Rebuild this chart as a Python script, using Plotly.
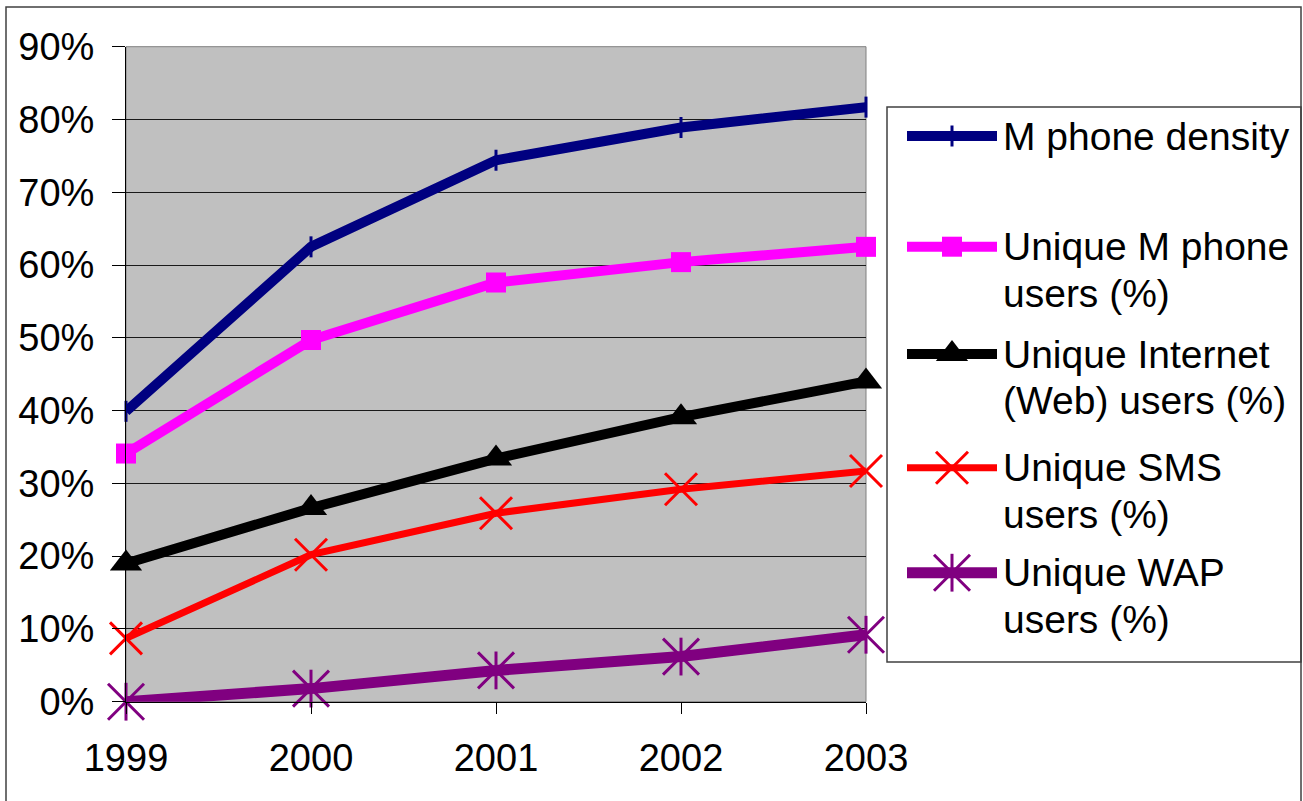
import plotly.graph_objects as go

# ---- data -------------------------------------------------------------
years = [1999, 2000, 2001, 2002, 2003]
year_labels = ["1999", "2000", "2001", "2002", "2003"]

m_phone_density = [39.9, 62.5, 74.4, 78.9, 81.7]
unique_m_phone = [34.1, 49.7, 57.6, 60.4, 62.5]
unique_internet = [19.0, 26.6, 33.4, 39.1, 44.0]
unique_sms = [8.7, 20.2, 25.9, 29.2, 31.7]
unique_wap = [0.0, 1.8, 4.3, 6.2, 9.2]

series_names = [
    ["M phone density"],
    ["Unique M phone", "users (%)"],
    ["Unique Internet", "(Web) users (%)"],
    ["Unique SMS", "users (%)"],
    ["Unique WAP", "users (%)"],
]

# ---- page geometry (pixels) --------------------------------------------
W, H = 1303, 801
PLOT_L, PLOT_R = 126, 866
PLOT_T, PLOT_B = 46.7, 701.7
FONT = "Liberation Sans, Arial, sans-serif"

NAVY, MAGENTA, BLACK, RED, PURPLE = "#000080", "#FF00FF", "#000000", "#FF0000", "#800080"

# per-series style: line colour, line width, marker symbol, marker size, filled
styles = [
    dict(color=NAVY, width=10, symbol="line-ns", size=15, filled=False),
    dict(color=MAGENTA, width=10, symbol="square", size=20, filled=True),
    dict(color=BLACK, width=10, symbol="triangle-up", size=28, filled=True),
    dict(color=RED, width=7, symbol="x-thin", size=32, filled=False),
    dict(color=PURPLE, width=11, symbol="x-thin", size=36, filled=False),
]
series_values = [m_phone_density, unique_m_phone, unique_internet, unique_sms, unique_wap]


def marker_for(st):
    if st["filled"]:
        return dict(symbol=st["symbol"], size=st["size"], color=st["color"],
                    line=dict(width=0))
    return dict(symbol=st["symbol"], size=st["size"], color=st["color"],
                line=dict(width=3, color=st["color"]))


fig = go.Figure()

# ---- data series -------------------------------------------------------
for vals, st, name in zip(series_values, styles, series_names):
    fig.add_trace(go.Scatter(
        x=years, y=vals, mode="lines+markers", name=" ".join(name),
        line=dict(color=st["color"], width=st["width"]),
        marker=marker_for(st), cliponaxis=False, showlegend=False,
        xaxis="x", yaxis="y",
    ))

# WAP star: vertical stroke on top of the diagonal cross
wap_bar = dict(symbol="line-ns", size=27, color=PURPLE, line=dict(width=3, color=PURPLE))
fig.add_trace(go.Scatter(x=years, y=unique_wap, mode="markers", marker=wap_bar,
                         cliponaxis=False, showlegend=False, xaxis="x", yaxis="y"))

# ---- legend (drawn on a pixel-space overlay) ---------------------------
LEG_L, LEG_T, LEG_R, LEG_B = 887, 107, 1301, 662
key_x0, key_x1 = 907, 997
text_x = 1001
row_y = [136, 246.7, 354, 467.7, 572.7]
line_gap = 46.7

for st, ry in zip(styles, row_y):
    fig.add_trace(go.Scatter(
        x=[key_x0, key_x1], y=[ry, ry], mode="lines",
        line=dict(color=st["color"], width=st["width"]),
        showlegend=False, xaxis="x2", yaxis="y2", hoverinfo="skip",
    ))
    fig.add_trace(go.Scatter(
        x=[(key_x0 + key_x1) / 2], y=[ry], mode="markers",
        marker=marker_for(st), showlegend=False, xaxis="x2", yaxis="y2",
        hoverinfo="skip", cliponaxis=False,
    ))
fig.add_trace(go.Scatter(x=[(key_x0 + key_x1) / 2], y=[row_y[4]], mode="markers",
                         marker=wap_bar, showlegend=False, xaxis="x2", yaxis="y2",
                         hoverinfo="skip", cliponaxis=False))

annotations = []
for lines, ry in zip(series_names, row_y):
    for k, txt in enumerate(lines):
        annotations.append(dict(
            x=text_x, y=ry + k * line_gap, xref="x2", yref="y2",
            text=txt, showarrow=False, xanchor="left", yanchor="middle",
            font=dict(family=FONT, size=39, color="black"),
        ))

shapes = [
    # plot area fill
    dict(type="rect", xref="x domain", yref="y domain", x0=0, x1=1, y0=0, y1=1,
         fillcolor="#C0C0C0", line=dict(color="#808080", width=1), layer="below"),
    # legend box
    dict(type="rect", xref="x2", yref="y2", x0=LEG_L, x1=LEG_R, y0=LEG_T, y1=LEG_B,
         fillcolor="rgba(0,0,0,0)", line=dict(color="#404040", width=1.5), layer="below"),
    # chart frame
    dict(type="rect", xref="x2", yref="y2", x0=6, x1=1301, y0=7, y1=812,
         fillcolor="rgba(0,0,0,0)", line=dict(color="#404040", width=1.5), layer="below"),
]

fig.update_layout(
    width=W, height=H, autosize=False,
    margin=dict(l=0, r=0, t=0, b=0, pad=0, autoexpand=False),
    paper_bgcolor="white", plot_bgcolor="rgba(0,0,0,0)",
    font=dict(family=FONT, size=38, color="black"),
    showlegend=False,
    xaxis=dict(
        domain=[PLOT_L / W, PLOT_R / W], range=[1999, 2003],
        tickmode="array", tickvals=years, ticktext=year_labels,
        ticks="outside", ticklen=11, tickwidth=1, tickcolor="black",
        showline=True, linecolor="black", linewidth=1,
        showgrid=False, zeroline=False, fixedrange=True, automargin=False,
        tickfont=dict(family=FONT, size=38, color="black"),
        ticklabelstandoff=12, anchor="y",
    ),
    yaxis=dict(
        domain=[1 - PLOT_B / H, 1 - PLOT_T / H], range=[0, 90],
        tickmode="linear", tick0=0, dtick=10, ticksuffix="%",
        ticks="outside", ticklen=13, tickwidth=1, tickcolor="black",
        showline=True, linecolor="black", linewidth=1,
        showgrid=True, gridcolor="#1a1a1a", gridwidth=1,
        zeroline=False, fixedrange=True, automargin=False,
        tickfont=dict(family=FONT, size=38, color="black"),
        ticklabelstandoff=10, anchor="x",
    ),
    xaxis2=dict(domain=[0, 1], range=[0, W], visible=False, fixedrange=True,
                anchor="y2", automargin=False),
    yaxis2=dict(domain=[0, 1], range=[H, 0], visible=False, fixedrange=True,
                anchor="x2", automargin=False),
    shapes=shapes,
    annotations=annotations,
)

fig.write_html("out.html")
